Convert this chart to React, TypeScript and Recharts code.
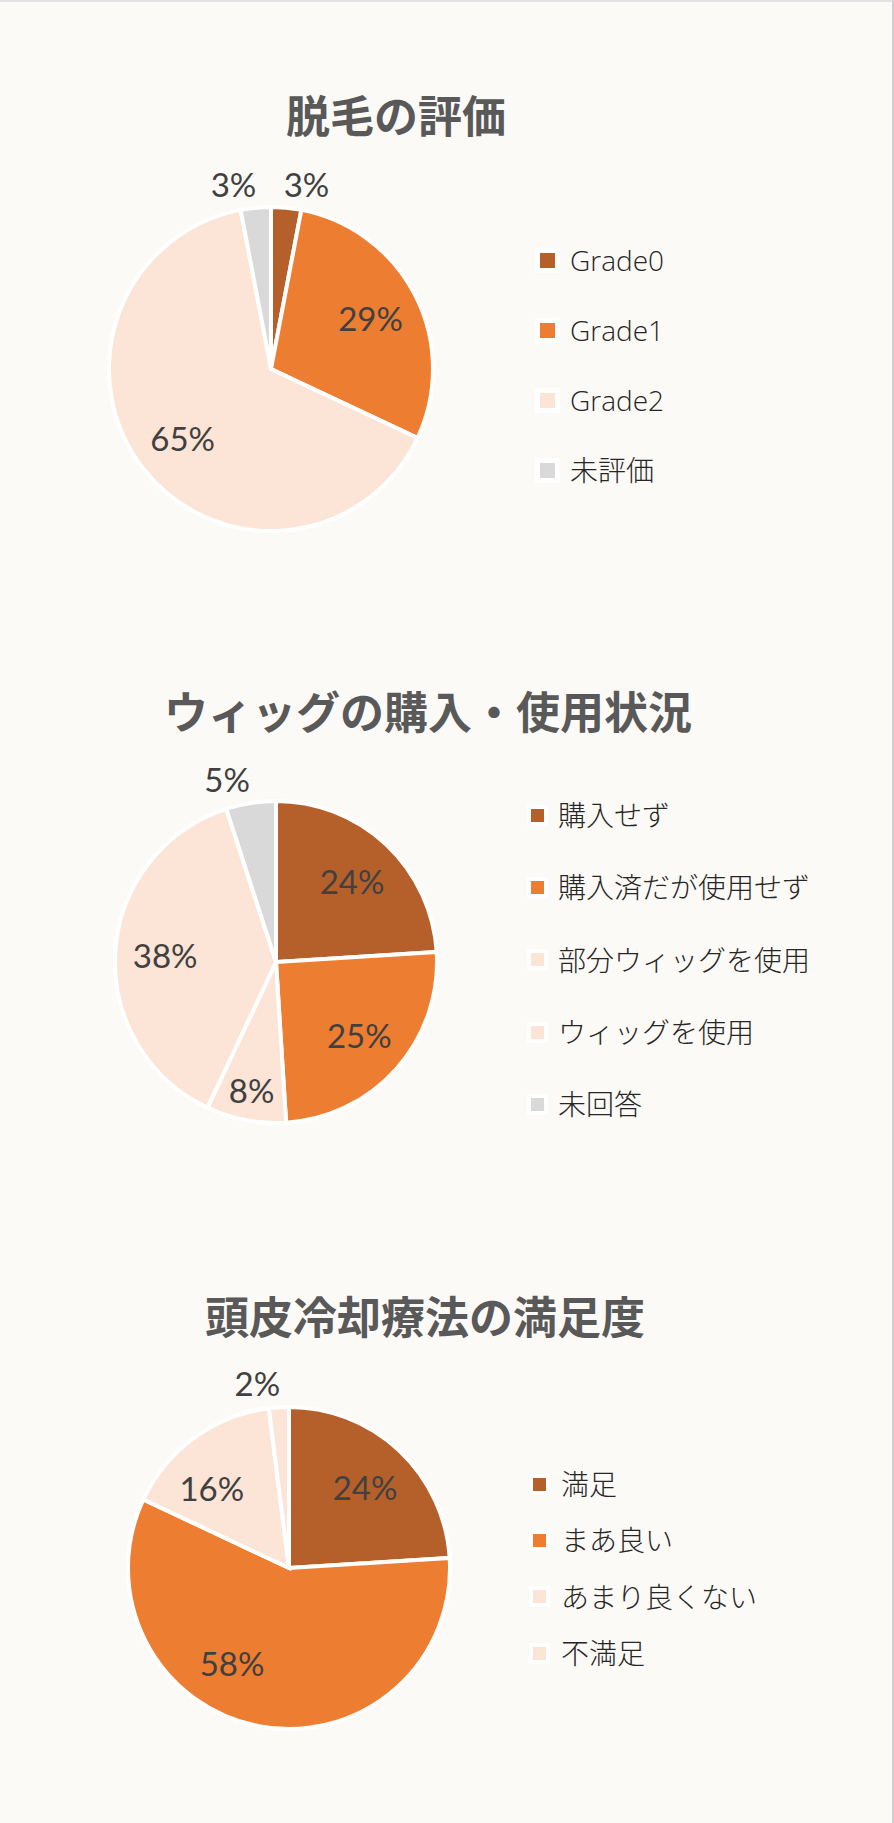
import React from "react";
import { PieChart, Pie, Cell, Legend } from "recharts";

// ---- Data ----
const chart1Title = "脱毛の評価";
const chart1Names = ["Grade0", "Grade1", "Grade2", "未評価"];
const chart1Values = [3, 29, 65, 3];

const chart2Title = "ウィッグの購入・使用状況";
const chart2Names = ["購入せず", "購入済だが使用せず", "部分ウィッグを使用", "ウィッグを使用", "未回答"];
const chart2Values = [24, 25, 8, 38, 5];

const chart3Title = "頭皮冷却療法の満足度";
const chart3Names = ["満足", "まあ良い", "あまり良くない", "不満足"];
const chart3Values = [24, 58, 16, 2];

const BROWN = "#B5602A";
const ORANGE = "#ED7D31";
const PEACH = "#FCE4D6";
const GRAY = "#D9D9D9";

const chart1Colors = [BROWN, ORANGE, PEACH, GRAY];
const chart2Colors = [BROWN, ORANGE, PEACH, PEACH, GRAY];
const chart3Colors = [BROWN, ORANGE, PEACH, PEACH];

const BG = "#FCFAF6";
const RADIAN = Math.PI / 180;
const LABEL_FONT = "Lato, 'Open Sans', sans-serif";
const LEGEND_FONT = "'Open Sans', 'Noto Sans CJK JP', sans-serif";
const TITLE_FONT = "'Noto Sans CJK JP', sans-serif";

// label angle nudges (degrees, clockwise) — placement style, not data
const makeLabel = (nudges: number[]) => (props: any) => {
  const { cx, cy, midAngle, outerRadius, value, index } = props;
  const ang = midAngle - (nudges[index] || 0);
  const sin = Math.sin(-ang * RADIAN);
  const cos = Math.cos(-ang * RADIAN);
  let x: number;
  let y: number;
  if (value < 6) {
    const rr = outerRadius + 24;
    x = cx + rr * cos + (cos >= 0 ? 18 : -20);
    y = cy + rr * sin;
  } else {
    const rr = value < 10 ? outerRadius * 0.81 : outerRadius * 0.69;
    x = cx + rr * cos;
    y = cy + rr * sin;
  }
  return (
    <text
      x={x}
      y={y}
      fill="#404040"
      fontSize={33}
      fontFamily={LABEL_FONT}
      textAnchor="middle"
      dominantBaseline="central"
    >
      {`${value}%`}
    </text>
  );
};

type LegendCfg = {
  left: number;
  top: number;
  row: number;
  marker: number;
  halo: number;
  gap: number;
};

const makeLegend = (cfg: LegendCfg, names: string[], colors: string[]) => () => (
  <div>
    {names.map((n, i) => (
      <div
        key={n}
        style={{
          height: cfg.row,
          display: "flex",
          alignItems: "center",
        }}
      >
        <div
          style={{
            width: cfg.marker,
            height: cfg.marker,
            background: colors[i],
            border: `${cfg.halo}px solid #FFFFFF`,
            flex: "none",
          }}
        />
        <span
          style={{
            marginLeft: cfg.gap,
            fontFamily: LEGEND_FONT,
            fontSize: 28,
            fontWeight: 300,
            color: "#262626",
            whiteSpace: "nowrap",
            lineHeight: 1,
          }}
        >
          {n}
        </span>
      </div>
    ))}
  </div>
);

type ChartCfg = {
  title: string;
  names: string[];
  values: number[];
  colors: string[];
  top: number;
  height: number;
  titleX: number;
  titleY: number;
  cx: number;
  cy: number;
  r: number;
  nudges: number[];
  legend: LegendCfg;
};

const PieBlock = ({ cfg }: { cfg: ChartCfg }) => {
  const data = cfg.names.map((n, i) => ({ name: n, value: cfg.values[i] }));
  return (
    <div style={{ position: "absolute", left: 0, top: cfg.top, width: 894, height: cfg.height }}>
      <div
        style={{
          position: "absolute",
          left: 0,
          width: cfg.titleX * 2,
          top: cfg.titleY - 25,
          height: 50,
          lineHeight: "50px",
          textAlign: "center",
          fontFamily: TITLE_FONT,
          fontWeight: 700,
          fontSize: 44,
          color: "#595959",
          whiteSpace: "nowrap",
          zIndex: 2,
        }}
      >
        {cfg.title}
      </div>
      <PieChart
        width={894}
        height={cfg.height}
        margin={{ top: 0, right: 0, bottom: 0, left: 0 }}
        style={{ position: "absolute", left: 0, top: 0 }}
      >
        <Pie
          data={data}
          dataKey="value"
          nameKey="name"
          cx={cfg.cx}
          cy={cfg.cy}
          outerRadius={cfg.r}
          startAngle={90}
          endAngle={-270}
          stroke="#FFFFFF"
          strokeWidth={4}
          label={makeLabel(cfg.nudges)}
          labelLine={false}
          isAnimationActive={false}
        >
          {data.map((d, i) => (
            <Cell key={d.name} fill={cfg.colors[i]} />
          ))}
        </Pie>
        <Legend
          layout="vertical"
          content={makeLegend(cfg.legend, cfg.names, cfg.colors)}
          wrapperStyle={{ left: cfg.legend.left, top: cfg.legend.top, width: 340, bottom: "auto", right: "auto" }}
        />
      </PieChart>
    </div>
  );
};

const charts: ChartCfg[] = [
  {
    title: chart1Title,
    names: chart1Names,
    values: chart1Values,
    colors: chart1Colors,
    top: 0,
    height: 600,
    titleX: 396,
    titleY: 112,
    cx: 271,
    cy: 367,
    r: 162,
    nudges: [0, 0, 0, 0],
    legend: { left: 535, top: 223, row: 70, marker: 15, halo: 5, gap: 10 },
  },
  {
    title: chart2Title,
    names: chart2Names,
    values: chart2Values,
    colors: chart2Colors,
    top: 600,
    height: 620,
    titleX: 428,
    titleY: 108,
    cx: 276,
    cy: 360,
    r: 161,
    nudges: [0, 0, 0, 0, 0],
    legend: { left: 527, top: 177, row: 72.3, marker: 13, halo: 4, gap: 10 },
  },
  {
    title: chart3Title,
    names: chart3Names,
    values: chart3Values,
    colors: chart3Colors,
    top: 1220,
    height: 603,
    titleX: 425,
    titleY: 93,
    cx: 289,
    cy: 346,
    r: 161,
    nudges: [0, 20, -8, 0],
    legend: { left: 529, top: 234, row: 56.3, marker: 13, halo: 4, gap: 11 },
  },
];

export default function App() {
  return (
    <div
      style={{
        position: "absolute",
        left: 0,
        top: 0,
        width: 894,
        height: 1823,
        background: BG,
        boxSizing: "border-box",
        borderTop: "2px solid #E2E2E2",
        borderRight: "2px solid #CFCFCF",
        overflow: "hidden",
      }}
    >
      {charts.map((c, i) => (
        <PieBlock key={i} cfg={c} />
      ))}
    </div>
  );
}
